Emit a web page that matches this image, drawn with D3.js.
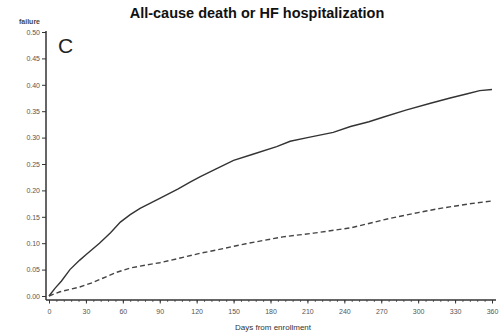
<!DOCTYPE html>
<html><head><meta charset="utf-8">
<script src="https://cdn.jsdelivr.net/npm/d3@7"></script>
<style>body{margin:0;background:#fff;}svg{display:block;}</style>
</head><body>
<svg id="c" width="502" height="333"></svg>
<script>
const title = "All-cause death or HF hospitalization";
const panelLetter = "C";
const yLabel = "failure";
const xLabel = "Days from enrollment";
const xTicks = [0,30,60,90,120,150,180,210,240,270,300,330,360];
const yTicks = [0,0.05,0.10,0.15,0.20,0.25,0.30,0.35,0.40,0.45,0.50];
const solidDays =  [0,5,10,17,25,30,41,50,58,66,74,90,105,115,123,135,150,165,185,196,210,231,245,260,272,290,310,326,340,350,360];
const solidVals =  [0,0.015,0.028,0.05,0.068,0.078,0.10,0.120,0.140,0.154,0.166,0.185,0.203,0.216,0.226,0.240,0.257,0.268,0.283,0.293,0.300,0.310,0.321,0.330,0.339,0.352,0.365,0.375,0.383,0.389,0.391];
const dashedDays = [0,9,25,35,47,55,66,82,90,105,123,136,160,190,215,245,277,300,318,340,360];
const dashedVals = [0,0.008,0.017,0.025,0.037,0.045,0.053,0.060,0.063,0.071,0.081,0.087,0.099,0.112,0.119,0.129,0.147,0.158,0.166,0.174,0.180];

const svg = d3.select("#c");
const x = d3.scaleLinear().domain([0,360]).range([49,492]);
const y = d3.scaleLinear().domain([0,0.5]).range([296,32]);
const font = "Liberation Sans, Arial, sans-serif";
const ink = "#333";

// y axis
const yAxis = svg.append("g").attr("transform","translate(46,0)")
  .call(d3.axisLeft(y).tickValues(yTicks).tickFormat(d3.format(".2f")).tickSize(4).tickPadding(2));
yAxis.select(".domain").remove();
yAxis.selectAll("text").attr("font-family",font).attr("font-size",7).attr("fill","#555");
yAxis.selectAll("line").attr("stroke",ink);
svg.append("line").attr("x1",46).attr("x2",46).attr("y1",31).attr("y2",300).attr("stroke",ink).attr("stroke-width",1.5);

// x axis
const xg = svg.append("g").attr("transform","translate(0,300)");
xg.call(d3.axisBottom(x).tickValues(d3.range(0,361,6)).tickFormat("").tickSize(2));
xg.select(".domain").remove();
xg.selectAll("line").attr("stroke",ink).attr("stroke-width",0.7);
const xMain = svg.append("g").attr("transform","translate(0,300)")
  .call(d3.axisBottom(x).tickValues(xTicks).tickSize(3.5).tickPadding(6));
xMain.select(".domain").remove();
xMain.selectAll("line").attr("stroke",ink);
xMain.selectAll("text").attr("font-family",font).attr("font-size",7).attr("fill","#555");
svg.append("line").attr("x1",46).attr("x2",496).attr("y1",300).attr("y2",300).attr("stroke",ink).attr("stroke-width",1.3);

// lines
const line = d3.line().x(d=>x(d[0])).y(d=>y(d[1]));
svg.append("path").datum(solidDays.map((d,i)=>[d,solidVals[i]]))
  .attr("d",line).attr("fill","none").attr("stroke",ink).attr("stroke-width",1.4);
svg.append("path").datum(dashedDays.map((d,i)=>[d,dashedVals[i]]))
  .attr("d",line).attr("fill","none").attr("stroke","#444").attr("stroke-width",1.4).attr("stroke-dasharray","5,3");

// texts
svg.append("text").attr("x",257).attr("y",18).attr("text-anchor","middle")
  .attr("font-family",font).attr("font-weight","bold").attr("font-size",14.5).attr("fill","#111").text(title);
svg.append("text").attr("x",19).attr("y",24).attr("font-family",font).attr("font-weight","bold")
  .attr("font-size",7).attr("fill","#444").text(yLabel);
svg.append("text").attr("x",58).attr("y",53).attr("font-family",font)
  .attr("font-size",21).attr("fill","#222").text(panelLetter);
svg.append("text").attr("x",273).attr("y",330).attr("text-anchor","middle").attr("font-family",font)
  .attr("font-size",8).attr("fill","#333").text(xLabel);
</script>
</body></html>
